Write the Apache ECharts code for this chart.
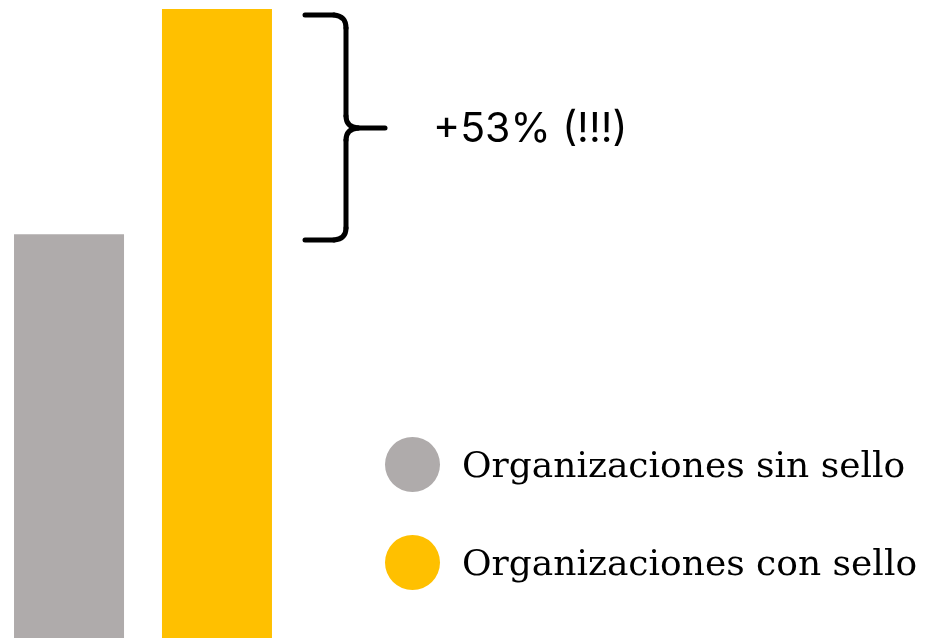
<!DOCTYPE html>
<html><head><meta charset="utf-8">
<script src="https://cdn.jsdelivr.net/npm/echarts@6/dist/echarts.min.js"></script>
<style>html,body{margin:0;padding:0;background:#fff;overflow:hidden}#c{width:933px;height:659px}</style>
</head><body><div id="c"></div>
<script>
const categories = ['Organizaciones'];
const seriesNames = ['Organizaciones sin sello', 'Organizaciones con sello'];
const sinSello = [1.00];
const conSello = [1.53];
const colors = ['#AFABAB', '#FFC000'];

const chart = echarts.init(document.getElementById('c'));
const pct = Math.round((conSello[0] / sinSello[0] - 1) * 100);
const st = { stroke: '#000', lineWidth: 5, fill: 'none', lineCap: 'round' };
function ln(x1, y1, x2, y2) { return { type: 'line', shape: { x1, y1, x2, y2 }, style: st }; }
function bz(x1, y1, cx, cy, x2, y2) { return { type: 'bezierCurve', shape: { x1, y1, cpx1: cx, cpy1: cy, x2, y2 }, style: st }; }
chart.setOption({
  animation: false,
  grid: { left: 0, width: 286, top: 9, bottom: 0 },
  xAxis: { type: 'category', data: categories, show: false },
  yAxis: { type: 'value', min: 0, max: 1.53, show: false },
  legend: {
    orient: 'vertical', left: 385, top: 437, padding: 0,
    icon: 'circle', itemWidth: 55, itemHeight: 55, itemGap: 43,
    formatter: n => '{t|' + n + '}',
    textStyle: {
      fontFamily: 'DejaVu Serif', fontSize: 36, color: '#000', padding: [0, 0, 0, 17],
      rich: { t: { fontFamily: 'DejaVu Serif', fontSize: 36, color: '#000', padding: [7, 0, 0, 0] } }
    },
    data: seriesNames
  },
  series: [
    { name: seriesNames[0], type: 'bar', data: sinSello, barWidth: 110, barGap: '34.5%', itemStyle: { color: colors[0] } },
    { name: seriesNames[1], type: 'bar', data: conSello, barWidth: 110, itemStyle: { color: colors[1] } }
  ],
  graphic: [
    ln(305, 15, 334, 15), bz(334, 15, 346, 16, 346, 28), ln(346, 28, 346, 116),
    bz(346, 116, 346, 127, 358, 128), ln(358, 128, 385, 128),
    bz(358, 128, 346, 129, 346, 140), ln(346, 140, 346, 228),
    bz(346, 228, 346, 239, 334, 240), ln(334, 240, 305, 240),
    { type: 'text', x: 433, y: 130, style: { text: '+' + pct + '% (!!!)', fontFamily: 'Inter', fontSize: 41, fill: '#000', verticalAlign: 'middle' } }
  ]
});
</script></body></html>
